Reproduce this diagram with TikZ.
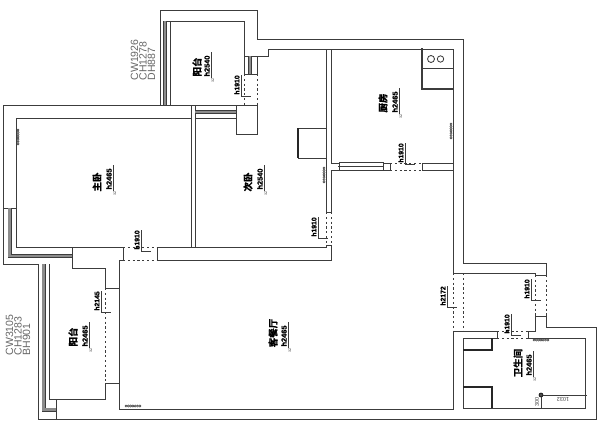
\documentclass[tikz,border=0pt]{standalone}
\usepackage{fontspec}
\setmainfont{Liberation Sans}
\newfontfamily\cjk[FakeBold=1.5]{Noto Sans CJK SC Bold}
\newfontfamily\heightfont[FakeBold=1.5]{Liberation Sans Bold}
\usetikzlibrary{
  calc,
  positioning,
}
\definecolor{wallgray}{RGB}{60, 60, 60}
\definecolor{glassgray}{RGB}{140, 140, 140}
\tikzstyle{wall} = [
  draw=wallgray,
  line width=0.85pt,
  line cap=rect,
]
\tikzstyle{opening} = [
  draw=wallgray,
  line width=0.7pt,
  dash pattern=on 2.2pt off 2.6pt,
]
\tikzstyle{glass} = [
  draw=wallgray,
  line width=0.6pt,
  double=glassgray,
  double distance=2.8pt,
]
\tikzstyle{fixture} = [
  draw=black!85,
  line width=1.2pt,
]
\tikzstyle{leader} = [
  draw=wallgray,
  line width=0.55pt,
]
\tikzstyle{pipe} = [
  draw=wallgray,
  line width=0.5pt,
]

\begin{document}
\begin{tikzpicture}[
      x=1pt, y=-1pt,
      every node/.style={inner sep=0pt},
      roomname/.style={rotate=90, font=\fontsize{9.5}{10}\cjk, text=black},
      roomheight/.style={rotate=90, font=\fontsize{7.4}{8}\heightfont, text=black},
      doorheight/.style={rotate=90, font=\fontsize{6.8}{7}\heightfont, text=black},
      smallmark/.style={rotate=90, font=\fontsize{3.5}{4}\selectfont, text=black!80},
      windowtag/.style={rotate=90, font=\fontsize{10.5}{8.4}\selectfont, align=left, text=black!60},
    ]
      \useasboundingbox (0,0) rectangle (600,423);

      % outer line of the flat
      \draw [wall] (160,105) -- (160,10) -- (257,10) -- (257,39) -- (463,39) -- (463,263) -- (546,263) -- (546,275) -- (535,275) -- (535,273) -- (453,273) -- (453,49) -- (268,49) -- (268,56) -- (244,56) -- (244,21) -- (163,21);
      \draw [wall] (546,316) -- (546,327) -- (596,327) -- (596,419) -- (38,419) -- (38,264) -- (3.5,264) -- (3.5,105) -- (236,105);
      \draw [wall] (546,316) -- (535,316) -- (535,331) -- (528,331) -- (528,338) -- (585,338) -- (585,408) -- (463,408) -- (463,338) -- (497,338) -- (497,331) -- (453,331) -- (453,409) -- (119,409) -- (119,260) -- (123,260) -- (123,247) -- (16,247) -- (16,118) -- (191,118);
      \draw [wall] (160,105) -- (236,105) -- (236,134) -- (257,134) -- (257,105) -- (236,105);
      \draw [wall] (191,105) -- (191,247);
      \draw [wall] (195,105) -- (195,247);
      \draw [wall] (195,118) -- (236,118);
      \draw [wall] (170,21) -- (170,105);
      \draw [wall] (257,56) -- (257,74) -- (244,74) -- (244,56);

      % walls round the kitchen and the second bedroom
      \draw [wall] (326,49) -- (326,212) -- (331,212) -- (331,170) -- (339,170);
      \draw [wall] (331,49) -- (331,163) -- (339,163);
      \draw [wall] (339,162) rectangle (383,170);
      \draw [wall, line width=1.2pt] (339,166.5) -- (383,166.5);
      \draw [wall] (383,163) -- (390,163) -- (390,170) -- (383,170);
      \draw [wall] (422,163) -- (422,170) -- (453,170);
      \draw [wall] (422,163) -- (453,163);
      \draw [wall] (157,247) -- (326,247) -- (326,245) -- (331,245) -- (331,260) -- (157,260) -- cycle;
      \draw [wall] (326,128) -- (298,128);
      \draw [wall] (298,158) -- (326,158);
      \draw [fixture] (298,128) -- (298,158);

      % left part, between bedroom and balcony
      \draw [wall] (72,247) -- (72,268) -- (105,268) -- (105,288) -- (119,288);
      \draw [wall] (119,383) -- (105,383) -- (105,399) -- (49,399) -- (49,264);
      \draw [wall] (56,399) -- (56,419);
      \draw [wall] (3.5,208) -- (16,208);

      % openings
      \draw [opening] (244,74) -- (244,105);
      \draw [opening] (257,74) -- (257,105);
      \draw [opening] (123,247) -- (157,247);
      \draw [opening] (123,260) -- (157,260);
      \draw [opening] (105,288) -- (105,383);
      \draw [opening] (119,288) -- (119,383);
      \draw [opening] (326,212) -- (326,245);
      \draw [opening] (331,212) -- (331,245);
      \draw [opening] (390,163) -- (422,163);
      \draw [opening] (390,170) -- (422,170);
      \draw [opening] (453,273) -- (453,331);
      \draw [opening] (463,273) -- (463,331);
      \draw [opening] (535,275) -- (535,316);
      \draw [opening] (546,275) -- (546,316);
      \draw [opening] (497,331) -- (528,331);
      \draw [opening] (497,338) -- (528,338);

      % window bands
      \draw [glass] (165,21) -- (165,105);
      \draw [glass] (250,56) -- (250,74);
      \draw [glass] (195,112) -- (236,112);
      \draw [glass] (9.5,208) -- (9.5,256) -- (72,256);
      \draw [glass] (43.5,264) -- (43.5,409.5) -- (56,409.5);

      % kitchen counter
      \draw [wall, line width=1.1pt] (422,49) -- (422,89) -- (453,89);
      \draw [wall] (422,68) -- (453,68);
      \draw [wall] (431,59) circle (3.5);
      \draw [wall] (440.5,59) circle (3.2);

      % bathroom fixtures
      \draw [fixture] (463,350) -- (492,350) -- (492,338);
      \draw [fixture] (463,387) -- (492,387) -- (492,408);

      % heating pipes
      \foreach \py in {130,132.3,...,144} \draw [pipe] (18,\py) circle (1.1);
      \foreach \py in {124,126.3,...,140} \draw [pipe] (451,\py) circle (1.1);
      \foreach \py in {168,170.3,...,183} \draw [pipe] (324,\py) circle (1.1);
      \foreach \px in {126,128.3,...,141} \draw [pipe] (\px,406) circle (1.1);
      \foreach \px in {534,536.3,...,549} \draw [pipe] (\px,340) circle (1.1);

      % room labels
      \foreach \id/\nx/\ny/\hx/\hy/\room/\hgt in {
        baltop/197/67/207/66/阳台/h2540,
        master/97/182/109/179/主卧/h2465,
        second/248/182/260/179/次卧/h2540,
        kitchen/383/103/395/102/厨房/h2465,
        ballow/73/337/85/336/阳台/h2465,
        living/273/333/284/336/客餐厅/h2465,
        bath/518/363/529/365/卫生间/h2465%
      } {
        \node [roomname] (name\id) at (\nx,\ny) {\room};
        \node [roomheight] (height\id) at (\hx,\hy) {\hgt};
        \draw [leader] ($(\hx,\hy)+(4,-14)$) -- ($(\hx,\hy)+(4,12)$);
        \node [smallmark] (mark\id) at ($(\hx,\hy)+(6,14)$) {3Z};
      }

      % door labels
      \foreach \id/\tx/\ty/\hgt in {
        a/237/85/h1910,
        b/137/240/h1910,
        c/97/301/h2145,
        d/401/153/h1910,
        e/314/227/h1910,
        f/443/296/h2172,
        g/527/289/h1910,
        h/507/324/h1910%
      } {
        \node [doorheight] (door\id) at (\tx,\ty) {\hgt};
        \draw [leader] ($(\tx,\ty)+(4.5,-10)$) -- ($(\tx,\ty)+(4.5,11)$) -- ($(\tx,\ty)+(13.5,11)$);
      }

      % window tags
      \node [windowtag] (tagtop) at (143,60) {CW1926\\CH1278\\DH887};
      \node [windowtag] (taglow) at (18,335) {CW3105\\CH1283\\BH901};

      % bathroom dimension
      \coordinate (dimtip) at (587,395);
      \coordinate (dimfoot) at (541,409);
      \node [circle, draw=black, fill=black!70, line width=0.6pt, minimum size=4pt] (dimdot) at (541,395) {};
      \draw [leader] (dimdot) -- (dimtip);
      \draw [leader] (dimdot) -- (dimfoot);
      \node [rotate=180, font=\fontsize{5.5}{6}\selectfont, text=black!75] (dimb) at (563,399) {1032};
      \node [rotate=90, font=\fontsize{5.5}{6}\selectfont, text=black!75] (dimc) at (537,402) {300};
    \end{tikzpicture}
\end{document}
